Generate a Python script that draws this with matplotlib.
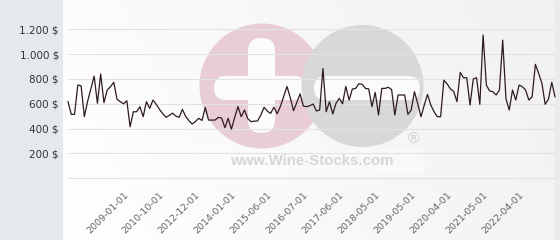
import numpy as np
import matplotlib
matplotlib.use('Agg')
import matplotlib.pyplot as plt
from matplotlib.patches import Circle, Rectangle, FancyBboxPatch

# price per bottle, one value per category (monthly quotes, with gaps)
prices = [
    617, 515, 515, 751, 745, 496, 620, 720, 823, 604,
    840, 609, 711, 738, 773, 636, 617, 600, 625, 415,
    536, 536, 577, 496, 617, 563, 630, 595, 555, 520,
    491, 507, 525, 501, 491, 555, 498, 464, 437, 458,
    483, 466, 570, 469, 469, 469, 491, 485, 408, 483,
    396, 490, 578, 496, 550, 480, 456, 460, 462, 510,
    572, 540, 523, 573, 520, 580, 660, 740, 650, 544,
    610, 680, 582, 577, 585, 598, 542, 550, 885, 536,
    617, 518, 604, 644, 600, 740, 630, 719, 724, 762,
    757, 724, 720, 577, 692, 510, 724, 724, 733, 715,
    510, 671, 671, 671, 515, 550, 697, 600, 496, 590,
    676, 590, 536, 496, 496, 790, 760, 720, 700, 617,
    853, 810, 810, 590, 800, 810, 596, 1154, 751, 703,
    697, 671, 711, 1113, 640, 550, 711, 630, 751, 738,
    711, 630, 657, 918, 845, 765, 596, 638, 773, 657,
]

tick_dates = ['2009-01-01', '2010-10-01', '2012-12-01', '2014-01-01',
              '2015-06-01', '2016-07-01', '2017-06-01', '2018-05-01',
              '2019-05-01', '2020-04-01', '2021-05-01', '2022-04-01']
first_tick, tick_every = 17, 11

y_ticks = [0, 200, 400, 600, 800, 1000, 1200]
y_labels = ['', '200 $', '400 $', '600 $', '800 $', '1.000 $', '1.200 $']

fig = plt.figure(figsize=(5.6, 2.4), dpi=100)

# background layer in pixel coordinates
bg = fig.add_axes([0, 0, 1, 1], zorder=0)
bg.set_xlim(0, 560)
bg.set_ylim(240, 0)
bg.axis('off')

grad_x = np.linspace(0, 1, 200)
grad_y = np.linspace(0, 1, 60)
gx, gy = np.meshgrid(grad_x, grad_y)
shade = 1 - 0.055 * (0.8 * gx + 0.2 * (1 - gy))
img = np.dstack([shade, shade, shade * 1.004])
bg.imshow(np.clip(img, 0, 1), extent=(63, 555, 240, 0), aspect='auto', zorder=0)
bg.add_patch(Rectangle((0, 0), 63, 240, fc='#e6e9ec', ec='none', zorder=1))
bg.add_patch(Rectangle((555, 0), 5, 240, fc='#ebebed', ec='none', zorder=1))

# watermark
bg.add_patch(Circle((262, 86), 62.5, fc='#e8cdd5', ec='none', zorder=2))
bg.add_patch(FancyBboxPatch((248, 38), 27, 95, boxstyle='round,pad=0,rounding_size=13',
                            fc='#fbfbfb', ec='none', zorder=3))
bg.add_patch(FancyBboxPatch((214, 76), 92, 24, boxstyle='round,pad=0,rounding_size=12',
                            fc='#fbfbfb', ec='none', zorder=3))
bg.add_patch(Circle((362.5, 86), 61, fc='#d8d8d8', ec='none', zorder=4))
bg.add_patch(FancyBboxPatch((314, 76), 106, 24, boxstyle='round,pad=0,rounding_size=12',
                            fc='#fbfbfb', ec='none', zorder=5))
bg.add_patch(Rectangle((197, 150), 228, 23, fc='white', ec='none', alpha=0.35, zorder=5))
bg.text(312, 161, 'www.Wine-Stocks.com', ha='center', va='center', fontsize=10.8,
        fontweight='bold', family='Liberation Sans', color='#d6d6d6', zorder=6)
bg.text(413, 139, '\u00ae', ha='center', va='center', fontsize=11,
        family='Liberation Sans', color='#cfcfcf', zorder=6)

# chart
ax = fig.add_axes([68 / 560, (240 - 178.3) / 240, (555 - 68) / 560, (178.3 - 29.3) / 240], zorder=1)
ax.patch.set_alpha(0)
ax.set_xlim(0, len(prices) - 1)
ax.set_ylim(0, 1200)
for s in ax.spines.values():
    s.set_visible(False)

ax.set_yticks(y_ticks)
ax.set_yticklabels(y_labels, fontsize=7.5, color='#333333')
ax.grid(axis='y', color='#e2e2e2', lw=0.8)
ax.axhline(0, color='#e2e2e2', lw=0.8, clip_on=False, zorder=0.5)
ax.set_axisbelow(True)

tick_idx = list(range(first_tick, len(prices), tick_every))[:len(tick_dates)]
ax.set_xticks(tick_idx)
ax.set_xticklabels(tick_dates, rotation=45, ha='right', va='top', rotation_mode='anchor',
                   fontsize=6.8, color='#666666')
ax.tick_params(axis='y', length=0, pad=6.5)
ax.tick_params(axis='x', length=0, pad=9)

ax.plot(range(len(prices)), prices, color='#2f1a24', lw=0.9, clip_on=False, zorder=3)

fig.savefig('out.png', dpi=100)
